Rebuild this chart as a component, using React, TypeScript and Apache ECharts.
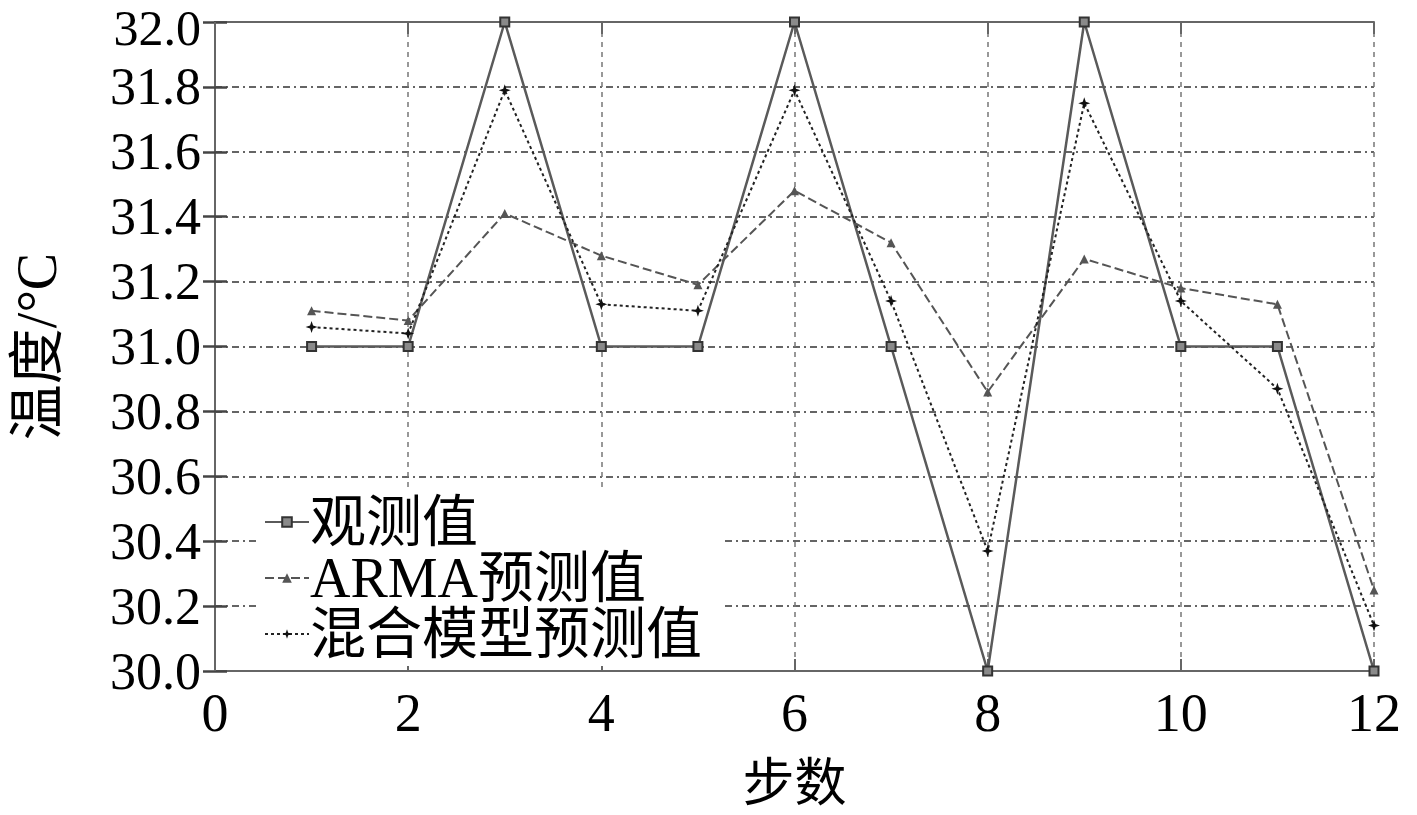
import React, { useEffect, useRef } from "react";
import * as echarts from "echarts";

const steps = [1, 2, 3, 4, 5, 6, 7, 8, 9, 10, 11, 12];
const observed = [31.0, 31.0, 32.0, 31.0, 31.0, 32.0, 31.0, 30.0, 32.0, 31.0, 31.0, 30.0];
const arma = [31.11, 31.08, 31.41, 31.28, 31.19, 31.48, 31.32, 30.86, 31.27, 31.18, 31.13, 30.25];
const hybrid = [31.06, 31.04, 31.79, 31.13, 31.11, 31.79, 31.14, 30.37, 31.75, 31.14, 30.87, 30.14];
const seriesNames = ["观测值", "ARMA预测值", "混合模型预测值"];
const xName = "步数";
const yName = "温度/°C";

const FONT = "'Liberation Serif', 'Noto Sans CJK SC', serif";
const STAR = "path://M0,-10 L2.5,-2.5 L10,0 L2.5,2.5 L0,10 L-2.5,2.5 L-10,0 L-2.5,-2.5 Z";

export default function App() {
  const ref = useRef<HTMLDivElement>(null);
  useEffect(() => {
    if (!ref.current) return;
    const chart = echarts.init(ref.current, null, { renderer: "svg" });
    const pair = (ys: number[]) => steps.map((s, i) => [s, ys[i]]);
    const axisLine = { show: true, lineStyle: { color: "#666", width: 2 } };
    chart.setOption({
      animation: false,
      backgroundColor: "#fff",
      grid: { left: 215, top: 22, right: 43, bottom: 144, outerBoundsMode: "none", containLabel: false },
      xAxis: [
        {
          type: "value",
          min: 0,
          max: 12,
          interval: 2,
          position: "bottom",
          axisLine,
          axisTick: { show: true, inside: true, length: 12, lineStyle: { color: "#666", width: 2 } },
          axisLabel: { fontSize: 54, lineHeight: 44, fontFamily: FONT, color: "#000", margin: 20 },
          splitLine: { show: true, lineStyle: { type: [5, 5], color: "#777", width: 1.5 } },
          name: xName,
          nameLocation: "middle",
          nameGap: 86,
          nameTextStyle: { fontSize: 52, fontFamily: FONT, color: "#000" },
        },
        {
          type: "value",
          min: 0,
          max: 12,
          interval: 2,
          position: "top",
          axisLine,
          axisTick: { show: true, inside: true, length: 12, lineStyle: { color: "#666", width: 2 } },
          axisLabel: { show: false },
          splitLine: { show: false },
        },
      ],
      yAxis: [
        {
          type: "value",
          min: 30,
          max: 32,
          interval: 0.2,
          position: "left",
          axisLine,
          axisTick: { show: true, inside: true, length: 12, lineStyle: { color: "#444", width: 2.5 } },
          axisLabel: {
            fontSize: 52,
            lineHeight: 40,
            fontFamily: FONT,
            color: "#000",
            margin: 14,
            formatter: (v: number) => (v >= 31.999 ? "{t|" + v.toFixed(1) + "}" : v.toFixed(1)),
            rich: {
              t: { fontSize: 50, fontFamily: FONT, color: "#000", padding: [12, 0, 0, 0] },
            },
          },
          splitLine: { show: true, lineStyle: { type: [7, 4, 2, 4], color: "#333", width: 1.5 } },
          name: yName,
          nameLocation: "middle",
          nameGap: 150,
          nameTextStyle: { fontSize: 56, fontFamily: FONT, color: "#000" },
        },
        {
          type: "value",
          min: 30,
          max: 32,
          interval: 0.2,
          position: "right",
          axisLine,
          axisTick: { show: true, inside: true, length: 12, lineStyle: { color: "#444", width: 2.5 } },
          axisLabel: { show: false },
          splitLine: { show: false },
        },
      ],
      legend: {
        orient: "vertical",
        left: 258,
        top: 492,
        backgroundColor: "#fff",
        padding: [2, 20, 4, 6],
        itemGap: 0,
        itemWidth: 44,
        itemHeight: 12,
        textStyle: {
          fontSize: 56,
          lineHeight: 56,
          fontFamily: FONT,
          color: "#000",
          padding: [0, 0, 0, -4],
        },
        data: seriesNames,
      },
      series: [
        {
          name: seriesNames[0],
          type: "line",
          data: pair(observed),
          symbol: "rect",
          symbolSize: 9,
          lineStyle: { color: "#5a5a5a", width: 2.5, type: "solid" },
          itemStyle: { color: "#8a8a8a", borderColor: "#333", borderWidth: 2 },
          z: 3,
        },
        {
          name: seriesNames[1],
          type: "line",
          data: pair(arma),
          symbol: "triangle",
          symbolSize: 9,
          lineStyle: { color: "#555", width: 2, type: [9, 4] },
          itemStyle: { color: "#555" },
          z: 4,
        },
        {
          name: seriesNames[2],
          type: "line",
          data: pair(hybrid),
          symbol: STAR,
          symbolSize: 12,
          lineStyle: { color: "#222", width: 2, type: [3, 3] },
          itemStyle: { color: "#111" },
          z: 5,
        },
      ],
    });
    return () => chart.dispose();
  }, []);
  return (
    <div
      ref={ref}
      style={{ position: "fixed", left: 0, top: 0, width: 1417, height: 815 }}
    />
  );
}
